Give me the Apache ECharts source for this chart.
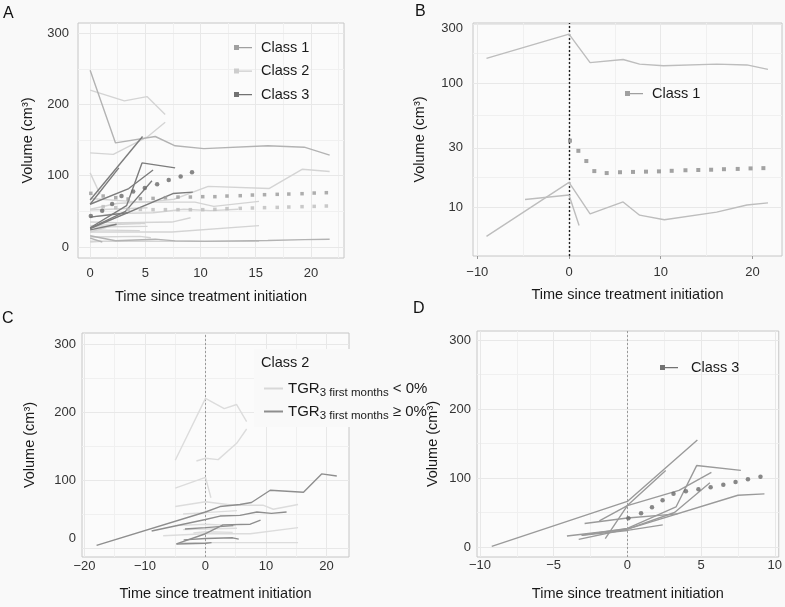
<!DOCTYPE html>
<html><head><meta charset="utf-8">
<script src="https://cdn.jsdelivr.net/npm/echarts@6/dist/echarts.min.js"></script>
<style>html,body{margin:0;padding:0;background:#f9f9f9}#c{width:785px;height:607px}</style>
</head><body><div id="c"></div><script>
// ---------- tick labels ----------
const xTicksA = [0, 5, 10, 15, 20], yTicksA = [0, 100, 200, 300];
const xTicksB = [-10, 0, 10, 20], yTicksB = [10, 30, 100, 300];
const xTicksC = [-20, -10, 0, 10, 20], yTicksC = [0, 100, 200, 300];
const xTicksD = [-10, -5, 0, 5, 10], yTicksD = [0, 100, 200, 300];

// ---------- class 1 patients [time, volume] ----------
const c1p1 = [[-9, 158], [0, 248], [2.3, 146], [5.9, 155], [7.7, 142], [10.3, 138], [16.1, 142], [19.4, 140], [21.7, 129]];
const c1p2 = [[-9, 5.8], [0, 15.8], [2.3, 8.8], [5.9, 11], [7.7, 8.6], [10.4, 7.9], [16.1, 9.1], [19.4, 10.4], [21.7, 10.8]];
const c1p3 = [[-4.8, 11.5], [0, 12.5], [1.1, 7.1]];

// ---------- class 2 patients, TGR < 0% ----------
const c2lo1 = [[-5.0, 129], [0, 220], [3.1, 205], [5.15, 211], [6.8, 186]];
const c2lo2 = [[-1.5, 128], [0, 132], [2.1, 130], [5.15, 154], [6.8, 175]];
const c2lo3 = [[-5.0, 88], [0, 104], [0.9, 74]];
const c2lo4 = [[-5.0, 61], [0, 68], [4.6, 63], [9.5, 63], [11.2, 57], [15.3, 64]];
const c2lo5 = [[-7.0, 18], [0, 21], [7.4, 21], [15.3, 30]];
const c2lo6 = [[-3.7, 27], [0, 28], [5.2, 29]];
const c2lo7 = [[-4.0, 8], [0, 8], [15.3, 8]];
const c2lo8 = [[-5.0, 33], [0, 35], [5.0, 33]];
const c2lo9 = [[-2.0, 22], [0, 24], [4.5, 23]];
const c2lo10 = [[-3.7, 50], [0, 52], [5.2, 55]];
// ---------- class 2 patients, TGR >= 0% ----------
const c2hi1 = [[-18, 4], [0, 53], [2.4, 61], [5.7, 64], [7.6, 67], [10.7, 85], [16.2, 82], [19.2, 109], [21.7, 106]];
const c2hi2 = [[-8.9, 25], [0, 42], [2.4, 47], [5.7, 48], [8.5, 53], [10.9, 51], [13.4, 53]];
const c2hi3 = [[-4.8, 6], [0, 21], [2.9, 34], [7.4, 35], [9.1, 41]];
const c2hi4 = [[-3.4, 28], [0, 30], [4.6, 33]];
const c2hi5 = [[-3.6, 12], [0, 14], [4.5, 15], [5.5, 13]];
const c2hi6 = [[-4.8, 6], [0, 7], [1.0, 8]];

// ---------- class 3 patients ----------
const c3p1 = [[-9.2, 1], [0, 66], [4.75, 155]];
const c3p2 = [[-1.5, 12], [0, 60], [2.6, 111]];
const c3p3 = [[-1.9, 38], [0, 60], [3.5, 82], [5.7, 108]];
const c3p4 = [[-3.1, 17], [0, 27], [3.3, 58], [4.7, 118], [7.7, 111]];
const c3p5 = [[-3.3, 11], [0, 26], [3.2, 50], [5.6, 93]];
const c3p6 = [[-4.1, 16], [0, 26], [7.5, 75], [9.3, 77]];
const c3p7 = [[-2.9, 34], [0, 42], [3.4, 48]];
const c3p8 = [[-3.1, 17], [0, 24], [2.4, 32]];

// ---------- class mean trajectories (dotted) ----------
const meanA1Time = [0.06, 1.18, 2.32, 3.44, 4.55, 5.7, 6.82, 7.96, 9.08, 10.2, 11.3, 12.4, 13.6, 14.7, 15.8, 16.95, 18.0, 19.2, 20.3, 21.4];
const meanA1Vol = [75.3, 71.5, 69.2, 67.3, 67.8, 68.2, 69.2, 70.1, 70.1, 70.6, 70.6, 71.5, 72, 72.9, 73.4, 73.9, 74.3, 74.8, 75.7, 76.2];
const meanA2Time = [1.18, 2.32, 3.44, 4.55, 5.7, 6.82, 7.96, 9.08, 10.2, 11.3, 12.4, 13.6, 14.7, 15.8, 16.95, 18.0, 19.2, 20.3, 21.4];
const meanA2Vol = [56.6, 55.2, 52.8, 52.8, 52.4, 52.4, 52.4, 52.4, 52.4, 52.8, 53.8, 54.2, 54.7, 55.2, 55.6, 56.1, 56.6, 57, 57.5];
const meanA3Time = [0.06, 1.09, 1.99, 2.84, 3.9, 4.95, 6.07, 7.12, 8.2, 9.23];
const meanA3Vol = [43.5, 51, 60.3, 71.5, 78, 82.7, 87.9, 94, 99, 105];
const meanB1Time = [0.11, 1.02, 1.89, 2.76, 4.11, 5.56, 6.98, 8.4, 9.81, 11.2, 12.7, 14.1, 15.5, 16.9, 18.4, 19.8, 21.2];
const meanB1Vol = [34.3, 28.4, 23.5, 19.5, 18.8, 19.1, 19.2, 19.3, 19.4, 19.6, 19.8, 19.9, 20.0, 20.2, 20.3, 20.5, 20.6];
const meanD3Time = [0.07, 0.93, 1.67, 2.39, 3.13, 3.97, 4.82, 5.65, 6.51, 7.34, 8.18, 9.03];
const meanD3Vol = [41.6, 48.8, 57.5, 67.6, 77.3, 80.7, 83.6, 86.5, 90.3, 94.2, 98.1, 101.9];

// ---------- build ----------
const FONT = 'Liberation Sans, Arial, sans-serif';
const BG = '#f9f9f9';
const class1 = [c1p1, c1p2, c1p3];
const class2lo = [c2lo1, c2lo2, c2lo3, c2lo4, c2lo5, c2lo6, c2lo7, c2lo8, c2lo9, c2lo10];
const class2hi = [c2hi1, c2hi2, c2hi3, c2hi4, c2hi5, c2hi6];
const class3 = [c3p1, c3p2, c3p3, c3p4, c3p5, c3p6, c3p7, c3p8];
const zip = (a, b) => a.map((t, i) => [t, b[i]]);
const post = d => d.filter(p => p[0] >= 0);

const MAJ = '#e8e8e8', MIN = '#f0f0f0';
function gridHelper(gi, xMaj, xMin, yMaj, yMin, zeroStyle) {
  const data = [];
  xMin.forEach(v => data.push({ xAxis: v, lineStyle: { color: MIN, width: 1, type: 'solid' } }));
  yMin.forEach(v => data.push({ yAxis: v, lineStyle: { color: MIN, width: 1, type: 'solid' } }));
  xMaj.forEach(v => data.push({ xAxis: v, lineStyle: { color: MAJ, width: 1, type: 'solid' } }));
  yMaj.forEach(v => data.push({ yAxis: v, lineStyle: { color: MAJ, width: 1, type: 'solid' } }));
  if (zeroStyle) data.push({ xAxis: 0, lineStyle: zeroStyle });
  return {
    type: 'line', name: '_grid' + gi, data: [], xAxisIndex: gi, yAxisIndex: gi, silent: true, z: 1,
    markLine: { silent: true, symbol: ['none', 'none'], label: { show: false }, z: 1, animation: false, data }
  };
}
function ln(data, gi, color, name, w) {
  return { type: 'line', name, data, xAxisIndex: gi, yAxisIndex: gi, symbol: 'none', silent: true, z: 3,
    lineStyle: { color, width: w || 1.4 }, itemStyle: { color } };
}
function dots(data, gi, color, size, shape) {
  return { type: 'scatter', name: '_m', data, xAxisIndex: gi, yAxisIndex: gi, silent: true, z: 4,
    symbol: shape || 'circle', symbolSize: size, itemStyle: { color } };
}

const series = [];
series.push(gridHelper(0, xTicksA, [2.5, 7.5, 12.5, 17.5, 22.5], yTicksA, [50, 150, 250]));
series.push(gridHelper(1, xTicksB, [-5, 5, 15], yTicksB, [17.3, 54.8, 173], { color: '#222', width: 1.4, type: [2, 2] }));
series.push(gridHelper(2, xTicksC, [-15, -5, 5, 15], yTicksC, [50, 150, 250], { color: '#9a9a9a', width: 1, type: [2, 2] }));
series.push(gridHelper(3, xTicksD, [-7.5, -2.5, 2.5, 7.5], yTicksD, [50, 150, 250], { color: '#9a9a9a', width: 1, type: [2, 2] }));

// Panel A
class2lo.concat(class2hi).forEach(p => series.push(ln(post(p), 0, '#d4d4d4', 'Class 2')));
class1.forEach(p => series.push(ln(post(p), 0, '#b3b3b3', 'Class 1')));
class3.forEach(p => series.push(ln(post(p), 0, '#7c7c7c', 'Class 3')));
series.push(dots(zip(meanA2Time, meanA2Vol), 0, '#bdbdbd', 3.5, 'rect'));
series.push(dots(zip(meanA1Time, meanA1Vol), 0, '#9a9a9a', 3.5, 'rect'));
series.push(dots(zip(meanA3Time, meanA3Vol), 0, '#6a6a6a', 4.5));
// Panel B
class1.forEach(p => series.push(ln(p, 1, '#bdbdbd', 'Class 1')));
series.push(dots(zip(meanB1Time, meanB1Vol), 1, '#8c8c8c', 4, 'rect'));
// Panel C
class2lo.forEach(p => series.push(ln(p, 2, '#dcdcdc', 'lt')));
class2hi.forEach(p => series.push(ln(p, 2, '#8e8e8e', 'ge')));
// Panel D
class3.forEach(p => series.push(ln(p, 3, '#9a9a9a', 'Class 3')));
series.push(dots(zip(meanD3Time, meanD3Vol), 3, '#6a6a6a', 4.5));

const grids = [
  { left: 78, top: 23, width: 266, height: 235 },
  { left: 473, top: 23, width: 309, height: 233 },
  { left: 82, top: 333, width: 267, height: 224 },
  { left: 477, top: 331, width: 303, height: 226 }
].map(g => Object.assign(g, { show: true, borderColor: '#c6c6c6', borderWidth: 1, backgroundColor: '#fbfbfb', containLabel: false }));

function xAx(gi, min, max, ticks, margin) {
  return { type: 'value', gridIndex: gi, min, max,
    name: 'Time since treatment initiation', nameLocation: 'middle', nameGap: gi < 2 ? 31 : 29,
    nameTextStyle: { fontSize: 14.5, color: '#1a1a1a', fontFamily: FONT },
    axisLine: { show: false }, splitLine: { show: false },
    axisTick: { show: true, customValues: ticks, length: 3, lineStyle: { color: '#9a9a9a' } },
    axisLabel: { customValues: ticks, margin, fontSize: 13, color: '#333', fontFamily: FONT,
      formatter: v => (v < 0 ? '\u2212' + Math.abs(v) : String(v)) } };
}
function yAx(gi, type, min, max, ticks, margin, gap, fmt, rich) {
  const o = { type, gridIndex: gi, min, max,
    name: 'Volume (cm\u00B3)', nameLocation: 'middle', nameGap: gap, nameRotate: 90,
    nameTextStyle: { fontSize: 14.5, color: '#1a1a1a', fontFamily: FONT },
    axisLine: { show: false }, splitLine: { show: false },
    axisTick: { show: true, customValues: ticks, length: 3, lineStyle: { color: '#9a9a9a' } },
    axisLabel: { customValues: ticks, margin, fontSize: 13, color: '#333', fontFamily: FONT, formatter: fmt || (v => String(Math.round(v))), rich: rich || {} } };
  if (type === 'log') o.logBase = 10;
  return o;
}

const xAxis = [
  xAx(0, -1.1, 23.0, xTicksA, 9),
  xAx(1, -10.47, 23.23, xTicksB, 10),
  xAx(2, -20.41, 23.72, xTicksC, 3),
  xAx(3, -10.2, 10.27, xTicksD, 2)
];
const yAxis = [
  yAx(0, 'value', -15.4, 314.2, yTicksA, 9, 43),
  yAx(1, 'log', 4.03, 305, yTicksB, 10, 46, v => Math.round(v) === 300 ? '{d|300}' : String(Math.round(v)), { d: { padding: [10, 0, 0, 0], fontSize: 13, color: '#333', fontFamily: FONT } }),
  yAx(2, 'value', -13.2, 316.2, yTicksC, 6, 45, v => Math.round(v) === 0 ? '{z|0}' : String(Math.round(v)), { z: { padding: [0, 0, 20, 0], fontSize: 13, color: '#333', fontFamily: FONT } }),
  yAx(3, 'value', -14.5, 313, yTicksD, 6, 37)
];

const keyIcon = 'path://M0,0h5v5h-5zM5,2h13v1.3h-13z';
const lineIcon = 'path://M0,0h19v2h-19z';
const legTxt = { fontSize: 14.5, color: '#1a1a1a', fontFamily: FONT };
const legend = [
  { left: 234, top: 40, orient: 'vertical', padding: 0, itemGap: 8.5, itemWidth: 18, itemHeight: 5, selectedMode: false,
    textStyle: Object.assign({ padding: [0, 0, 0, 4] }, legTxt),
    data: [{ name: 'Class 1', icon: keyIcon, itemStyle: { color: '#a0a0a0' } },
           { name: 'Class 2', icon: keyIcon, itemStyle: { color: '#cdcdcd' } },
           { name: 'Class 3', icon: keyIcon, itemStyle: { color: '#727272' } }] },
  { left: 625, top: 86, orient: 'vertical', padding: 0, itemWidth: 18, itemHeight: 5, selectedMode: false,
    textStyle: Object.assign({ padding: [0, 0, 0, 4] }, legTxt),
    data: [{ name: 'Class 1', icon: keyIcon, itemStyle: { color: '#a0a0a0' } }] },
  { left: 256, top: 350, orient: 'vertical', padding: [28, 8, 6, 8], itemGap: 2, itemWidth: 19, itemHeight: 2, selectedMode: false,
    formatter: n => n === 'lt' ? '{m|TGR}{s|3 first months}{m| < 0%}' : '{m|TGR}{s|3 first months}{m| \u2265 0%}',
    textStyle: { fontFamily: FONT, color: '#1a1a1a', rich: {
      m: { fontSize: 15, color: '#1a1a1a', fontFamily: FONT, lineHeight: 20 },
      s: { fontSize: 11.5, color: '#1a1a1a', fontFamily: FONT, padding: [9, 0, 0, 0], lineHeight: 11 } } },
    data: [{ name: 'lt', icon: lineIcon, itemStyle: { color: '#d8d8d8' } },
           { name: 'ge', icon: lineIcon, itemStyle: { color: '#8e8e8e' } }] },
  { left: 660, top: 360, orient: 'vertical', padding: 0, itemWidth: 20, itemHeight: 5, selectedMode: false,
    textStyle: Object.assign({ padding: [0, 0, 0, 7] }, legTxt),
    data: [{ name: 'Class 3', icon: keyIcon, itemStyle: { color: '#727272' } }] }
];

const letter = (t, l, tp) => ({ text: t, left: l, top: tp, padding: 0, textStyle: { fontSize: 16, fontWeight: 'normal', color: '#111', fontFamily: FONT } });
const title = [
  letter('A', 3, 6), letter('B', 415, 4), letter('C', 2, 311), letter('D', 413, 301),
  { text: 'Class 2', left: 261, top: 355, padding: 0, z: 10, textStyle: { fontSize: 14.5, fontWeight: 'normal', color: '#1a1a1a', fontFamily: FONT } }
];

// legend key box of panel C (covers the panel frame, like the reference)
const graphic = [{ type: 'rect', left: 254, top: 349, z: 3, silent: true, shape: { width: 137, height: 78 }, style: { fill: BG } }];

const chart = echarts.init(document.getElementById('c'), null, { renderer: 'canvas' });
chart.setOption({ backgroundColor: BG, animation: false, title, legend, grid: grids, xAxis, yAxis, series, graphic });
</script></body></html>
